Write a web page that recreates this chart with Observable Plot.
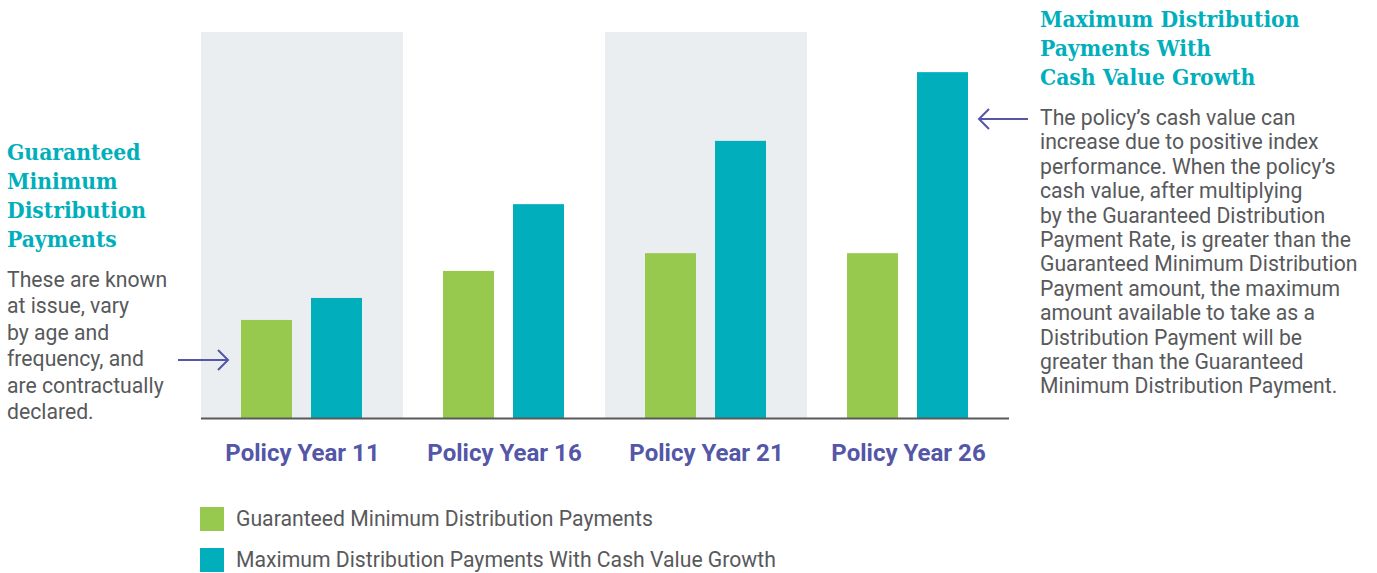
<!DOCTYPE html>
<html>
<head>
<meta charset="utf-8">
<script src="https://cdn.jsdelivr.net/npm/d3@7"></script>
<script src="https://cdn.jsdelivr.net/npm/@observablehq/plot@0.6"></script>
<style>
  html, body { margin: 0; padding: 0; background: #fff; }
  #wrap { position: relative; width: 1377px; height: 573px; overflow: hidden; font-family: Roboto, "Noto Sans", sans-serif; color: #58595b; }
  #chart { position: absolute; left: 0; top: 0; }
  .head { position: absolute; font-family: "DejaVu Serif Condensed", "DejaVu Serif", serif; font-weight: bold; color: #00afbb; font-size: 22.6px; line-height: 29px; white-space: nowrap; }
  .body { position: absolute; font-family: Roboto, sans-serif; font-size: 21.2px; color: #58595b; white-space: nowrap; }
  .legend { position: absolute; left: 200px; font-family: Roboto, sans-serif; font-size: 21.2px; color: #58595b; display: flex; align-items: center; white-space: nowrap; }
  .legend span.sw { display: inline-block; width: 24px; height: 24px; margin-right: 12px; }
  svg.arrow { position: absolute; overflow: visible; }
</style>
</head>
<body>
<div id="wrap">
  <div id="chart"></div>
</div>
<script>
// ---- data ----
const years = ["Policy Year 11", "Policy Year 16", "Policy Year 21", "Policy Year 26"];
const seriesNames = ["Guaranteed Minimum Distribution Payments", "Maximum Distribution Payments With Cash Value Growth"];
const guaranteed = [25.4, 38.1, 42.7, 42.7];
const maximum = [31.1, 55.4, 71.8, 89.6];
const shadedYears = ["Policy Year 11", "Policy Year 21"];
const seriesColors = ["#97c94f", "#00afbb"];

const leftTitle = ["Guaranteed", "Minimum", "Distribution", "Payments"];
const leftBody = ["These are known", "at issue, vary", "by age and", "frequency, and", "are contractually", "declared."];
const rightTitle = ["Maximum Distribution", "Payments With", "Cash Value Growth"];
const rightBody = ["The policy\u2019s cash value can", "increase due to positive index", "performance. When the policy\u2019s", "cash value, after multiplying", "by the Guaranteed Distribution", "Payment Rate, is greater than the", "Guaranteed Minimum Distribution", "Payment amount, the maximum", "amount available to take as a", "Distribution Payment will be", "greater than the Guaranteed", "Minimum Distribution Payment."];

// ---- table ----
const rows = [];
years.forEach((y, i) => {
  rows.push({year: y, series: seriesNames[0], value: guaranteed[i]});
  rows.push({year: y, series: seriesNames[1], value: maximum[i]});
});
const panels = shadedYears.map(y => ({year: y}));

const chart = Plot.plot({
  width: 1377,
  height: 480,
  marginLeft: 200,
  marginRight: 367,
  marginTop: 32,
  marginBottom: 62,
  fx: {domain: years, padding: 0, label: null},
  x: {domain: seriesNames, paddingInner: 0.2676, paddingOuter: 0.56, axis: null},
  y: {domain: [0, 100], axis: null},
  color: {domain: seriesNames, range: seriesColors},
  marks: [
    Plot.barY(panels, {fx: "year", y: () => 100, fill: "#ebeef1"}),
    Plot.barY(rows, {fx: "year", x: "series", y: "value", fill: "series"}),
    Plot.ruleY([0], {stroke: "#58595b", strokeWidth: 2}),
    Plot.axisFx({anchor: "bottom", tickSize: 0, tickPadding: 25, label: null, color: "#5456a7", fontSize: 24, fontWeight: "bold"})
  ]
});
chart.style.fontFamily = "Roboto, sans-serif";
document.getElementById("chart").appendChild(chart);

const wrap = document.getElementById("wrap");
function addBlock(cls, lines, left, top, lh) {
  const d = document.createElement("div");
  d.className = cls;
  d.style.left = left + "px";
  d.style.top = top + "px";
  if (lh) d.style.lineHeight = lh + "px";
  d.innerHTML = lines.map(s => s.replace(/&/g, "&amp;")).join("<br>");
  wrap.appendChild(d);
}
addBlock("head", leftTitle, 7, 138);
addBlock("body", leftBody, 7, 267, 26.4);
addBlock("head", rightTitle, 1040, 5);
addBlock("body", rightBody, 1040, 106, 24.4);

// legend
seriesNames.forEach((name, i) => {
  const d = document.createElement("div");
  d.className = "legend";
  d.style.top = (506 + i * 41) + "px";
  d.innerHTML = `<span class="sw" style="background:${seriesColors[i]}"></span><span>${name}</span>`;
  wrap.appendChild(d);
});

// arrows
function arrow(x1, x2, y) {
  const ns = "http://www.w3.org/2000/svg";
  const s = document.createElementNS(ns, "svg");
  s.setAttribute("class", "arrow");
  s.setAttribute("width", 1377); s.setAttribute("height", 573);
  s.style.left = "0px"; s.style.top = "0px";
  const dir = Math.sign(x2 - x1);
  const p = document.createElementNS(ns, "path");
  p.setAttribute("d", `M${x1},${y}H${x2}M${x2 - dir * 10},${y - 10}L${x2},${y}L${x2 - dir * 10},${y + 10}`);
  p.setAttribute("fill", "none");
  p.setAttribute("stroke", "#5456a7");
  p.setAttribute("stroke-width", 2);
  s.appendChild(p);
  wrap.appendChild(s);
}
arrow(178, 228, 360);
arrow(1028, 979, 119);
</script>
</body>
</html>
